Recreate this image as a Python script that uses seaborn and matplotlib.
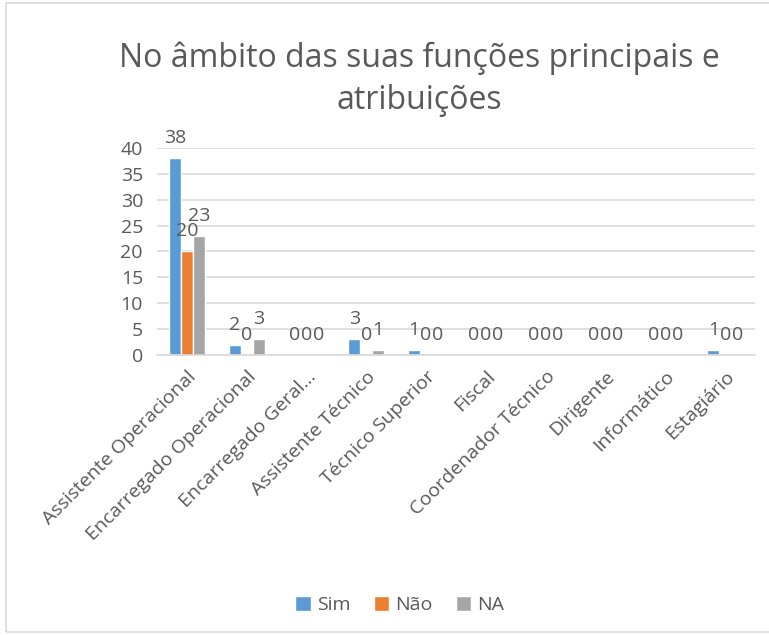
import pandas as pd
import matplotlib.pyplot as plt
import seaborn as sns
from matplotlib.patches import Rectangle

# Chart data
categories = ["Assistente Operacional", "Encarregado Operacional", "Encarregado Geral...",
              "Assistente Técnico", "Técnico Superior", "Fiscal", "Coordenador Técnico",
              "Dirigente", "Informático", "Estagiário"]
sim = [38, 2, 0, 3, 1, 0, 0, 0, 0, 1]
nao = [20, 0, 0, 0, 0, 0, 0, 0, 0, 0]
na = [23, 3, 0, 1, 0, 0, 0, 0, 0, 0]
series_names = ["Sim", "Não", "NA"]
colors = ["#5B9BD5", "#ED7D31", "#A5A5A5"]

df = pd.DataFrame({"categoria": categories * 3,
                   "valor": sim + nao + na,
                   "serie": [s for s in series_names for _ in categories]})

sns.set_style("white")
plt.rcParams["font.family"] = ["Open Sans", "DejaVu Sans"]
text_color = "#595959"

fig = plt.figure(figsize=(7.69, 6.35), dpi=100)
ax = fig.add_axes([0.204, 0.441, 0.778, 0.326])

sns.barplot(data=df, x="categoria", y="valor", hue="serie", palette=colors,
            width=0.6, gap=0.0, ax=ax, saturation=1)

for cont in ax.containers:
    ax.bar_label(cont, fmt="%g", fontsize=14, color=text_color, padding=8)

ax.set_ylim(0, 40)
ax.set_yticks(range(0, 41, 5))
ax.yaxis.grid(True, color="#D9D9D9", linewidth=1.2)
ax.set_axisbelow(True)
ax.set_xlim(-0.5, len(categories) - 0.5)
for side in ["top", "right", "left"]:
    ax.spines[side].set_visible(False)
ax.spines["bottom"].set_color("#D9D9D9")
ax.spines["bottom"].set_linewidth(1.2)
ax.tick_params(axis="y", length=0, labelsize=14, colors=text_color, pad=10)
ax.tick_params(axis="x", length=0, labelsize=14, colors=text_color, pad=9)
ax.set_xticks(range(len(categories)))
ax.set_xticklabels(categories, rotation=45, ha="right", rotation_mode="anchor")
ax.set_xlabel("")
ax.set_ylabel("")

handles, labels = ax.get_legend_handles_labels()
ax.legend_.remove()
fig.legend(handles, labels, loc="center", bbox_to_anchor=(0.52, 0.047), ncol=3,
           frameon=False, fontsize=14, handlelength=0.8, handleheight=0.8,
           handletextpad=0.3, columnspacing=1.2, labelcolor=text_color)

fig.text(0.545, 0.875, "No âmbito das suas funções principais e\natribuições",
         ha="center", va="center", fontsize=23, color=text_color, linespacing=1.35)

# chart border
fig.patches.append(Rectangle((0.008, 0.005), 1.2, 0.99, transform=fig.transFigure,
                             fill=False, edgecolor="#D9D9D9", linewidth=1.2))

fig.savefig("out.png", dpi=100)
